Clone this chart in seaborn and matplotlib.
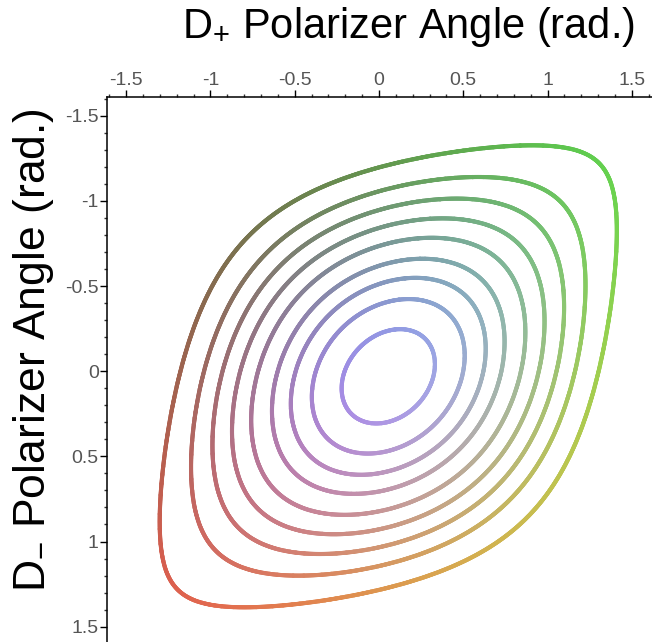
import numpy as np
import pandas as pd
import matplotlib
matplotlib.use('Agg')
import matplotlib.pyplot as plt
from matplotlib.ticker import MultipleLocator
import seaborn as sns
import contourpy

# 轴刻度
tick_values = [-1.5, -1, -0.5, 0, 0.5, 1, 1.5]
tick_labels = ['-1.5', '-1', '-0.5', '0', '0.5', '1', '1.5']
x_limits = (-1.614, 1.62)
y_limits = (1.59, -1.61)

# 等高线（从图上读出的模型参数）
levels = [0.105, 0.205, 0.30, 0.40, 0.505, 0.62, 0.72, 0.82, 0.93]
center_x = 0.055
center_y = 0.03
coupling = 0.25

# 颜色：R 随 D- 变化，G 随 D+ 变化，B 随等高线高度变化
red_range = (85, 232)
green_range = (85, 215)
blue_range = (60, 240)


def build_contours():
    gx = np.linspace(x_limits[0], x_limits[1], 641)
    gy = np.linspace(y_limits[1], y_limits[0], 641)
    X, Y = np.meshgrid(gx, gy)
    u = X - center_x
    v = Y - center_y
    Z = (np.cos(u) * np.cos(v) - coupling * np.sin(u) * np.sin(v)) ** 2
    gen = contourpy.contour_generator(X, Y, Z)
    frames = []
    for lev in levels:
        for seg in gen.lines(lev):
            frames.append(pd.DataFrame({'x': seg[:, 0], 'y': seg[:, 1], 'level': lev}))
    return pd.concat(frames, ignore_index=True)


def point_colors(df):
    r = red_range[0] + (red_range[1] - red_range[0]) * (df['y'] + 1.5) / 3.0
    g = green_range[0] + (green_range[1] - green_range[0]) * (df['x'] + 1.5) / 3.0
    b = blue_range[0] + (blue_range[1] - blue_range[0]) * df['level']
    rgb = np.column_stack([r, g, b]) / 255.0
    return np.clip(rgb, 0, 1)


sns.set_style('white')
plt.rcParams['font.family'] = ['Liberation Sans', 'DejaVu Sans']
plt.rcParams['mathtext.fontset'] = 'custom'
plt.rcParams['mathtext.rm'] = 'Liberation Sans'

W, H = 652, 642
fig = plt.figure(figsize=(W / 100, H / 100), dpi=100)
left_px, top_px = 107, 97
ax = fig.add_axes([left_px / W, 0, 1 - left_px / W, (H - top_px) / H])

df = build_contours()
sns.scatterplot(data=df, x='x', y='y', c=point_colors(df), s=9, linewidth=0,
                legend=False, ax=ax)

ax.set_xlim(*x_limits)
ax.set_ylim(*y_limits)
ax.set_xlabel('')
ax.set_ylabel('')

ax.xaxis.tick_top()
ax.set_xticks(tick_values)
ax.set_xticklabels(tick_labels)
ax.set_yticks(tick_values)
ax.set_yticklabels(tick_labels)
ax.xaxis.set_minor_locator(MultipleLocator(0.1))
ax.yaxis.set_minor_locator(MultipleLocator(0.1))
ax.tick_params(which='major', direction='out', length=5, width=1, color='black',
               labelsize=14, labelcolor='#555555', pad=1)
ax.tick_params(which='minor', direction='out', length=2.5, width=1, color='#333333')
ax.tick_params(axis='x', which='both', top=True, bottom=False)
ax.tick_params(axis='y', which='both', left=True, right=False)

for side in ['right', 'bottom']:
    ax.spines[side].set_visible(False)
for side in ['top', 'left']:
    ax.spines[side].set_color('black')
    ax.spines[side].set_linewidth(1.1)

fig.text(635 / W, (H - 38) / H, r'D$_\mathregular{+}$ Polarizer Angle (rad.)',
         ha='right', va='baseline', fontsize=30, color='black')
fig.text(45 / W, (H - 592) / H, r'D$_\mathregular{-}$ Polarizer Angle (rad.)',
         rotation=90, rotation_mode='anchor', ha='left', va='baseline',
         fontsize=32, color='black')

fig.savefig('out.png', dpi=100)
